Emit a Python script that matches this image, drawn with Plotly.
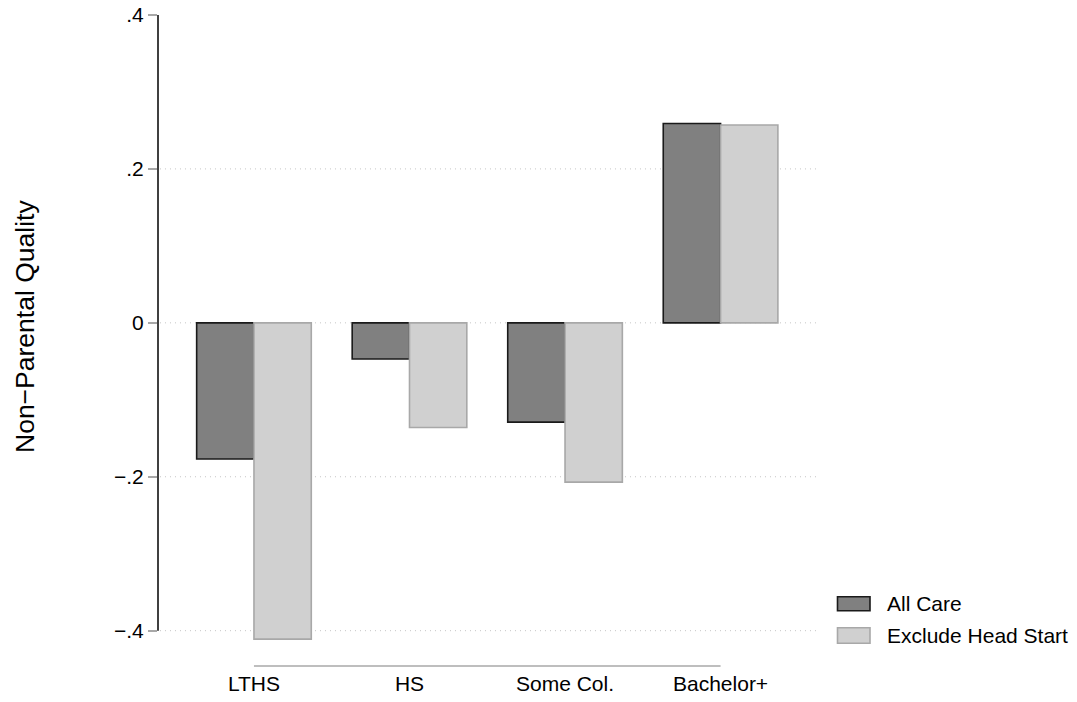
import plotly.graph_objects as go

# ---- data ----
categories = ["LTHS", "HS", "Some Col.", "Bachelor+"]
series_names = ["All Care", "Exclude Head Start"]
all_care = [-0.177, -0.047, -0.129, 0.259]
exclude_head_start = [-0.411, -0.136, -0.207, 0.257]
ytick_vals = [-0.4, -0.2, 0, 0.2, 0.4]
ytick_text = ["\u2212.4", "\u2212.2", "0", ".2", ".4"]
ytitle = "Non\u2212Parental Quality"

# ---- styling ----
FONT = "Liberation Sans, Arial, Helvetica, sans-serif"
W, H = 1077, 702
OFF = 0  # page body margin removed via post_script
# desired plot area on screen: x 158..817, y 10..666
L, T = 158 - OFF, 10 - OFF
R, B = W - (817 - OFF), H - (666 - OFF)
PW, PH = W - L - R, H - T - B

fills = ["#808080", "#d0d0d0"]
edges = ["#1a1a1a", "#a8a8a8"]

def px2x(px):  # screen px -> paper x
    return (px - OFF - L) / PW

def py2y(py):  # screen px -> paper y
    return (H - B - (py - OFF)) / PH

fig = go.Figure()
for name, vals, fc, ec in zip(series_names, [all_care, exclude_head_start], fills, edges):
    fig.add_trace(go.Bar(
        x=categories, y=vals, name=name,
        marker=dict(color=fc, line=dict(color=ec, width=1.6)),
        showlegend=False,
    ))

shapes = []
# dotted gridlines (no gridline at the top value)
for v in ytick_vals[:-1]:
    shapes.append(dict(type="line", xref="paper", yref="y", x0=0.003, x1=1, y0=v, y1=v,
                       line=dict(color="#c4c4c4", width=1, dash="1px,4px"), layer="below"))
# y axis line spanning tick range
shapes.append(dict(type="line", xref="paper", yref="y", x0=0, x1=0,
                   y0=min(ytick_vals), y1=max(ytick_vals),
                   line=dict(color="#000000", width=1.5), layer="above"))
# x axis line from first to last category
shapes.append(dict(type="line", xref="x", yref="paper", x0=categories[0], x1=categories[-1],
                   y0=0, y1=0, line=dict(color="#a8a8a8", width=1.6), layer="above"))

# manual legend
legend_rows = [(596.7, 610.7), (627.7, 643.3)]
annotations = []
for (y0, y1), name, fc, ec in zip(legend_rows, series_names, fills, edges):
    shapes.append(dict(type="rect", xref="paper", yref="paper",
                       x0=px2x(837.5), x1=px2x(870), y0=py2y(y1), y1=py2y(y0),
                       fillcolor=fc, line=dict(color=ec, width=1.6)))
    annotations.append(dict(xref="paper", yref="paper", x=px2x(885), y=py2y((y0 + y1) / 2),
                            text=name, showarrow=False, xanchor="left", yanchor="middle",
                            font=dict(family=FONT, size=21, color="#000000")))

annotations.append(dict(xref="paper", yref="paper", x=px2x(25), y=py2y(327),
                        text=ytitle, textangle=-90, showarrow=False,
                        xanchor="center", yanchor="middle",
                        font=dict(family=FONT, size=26.5, color="#000000")))

fig.update_layout(
    width=W, height=H,
    margin=dict(l=L, r=R, t=T, b=B, pad=0, autoexpand=False),
    paper_bgcolor="white", plot_bgcolor="white",
    barmode="group", bargap=0.263, bargroupgap=0,
    font=dict(family=FONT, size=21, color="#000000"),
    shapes=shapes, annotations=annotations,
    showlegend=False,
)
fig.update_xaxes(
    range=[-0.617, 3.620], showline=False, showgrid=False, zeroline=False,
    automargin=False, ticks="", ticklabelstandoff=3, ticklabeloverflow="allow",
    tickfont=dict(family=FONT, size=21, color="#000000"),
)
fig.update_yaxes(
    range=[-0.4459, 0.4065], showline=False, showgrid=False, zeroline=False,
    automargin=False, ticklabeloverflow="allow",
    tickvals=ytick_vals, ticktext=ytick_text,
    ticks="outside", ticklen=9, tickwidth=1.5, tickcolor="#a8a8a8",
    tickfont=dict(family=FONT, size=21, color="#000000"),
)

fig.write_html("out.html",
               config={"displayModeBar": False},
               post_script="document.body.style.margin='0px';document.body.style.overflow='hidden';")
